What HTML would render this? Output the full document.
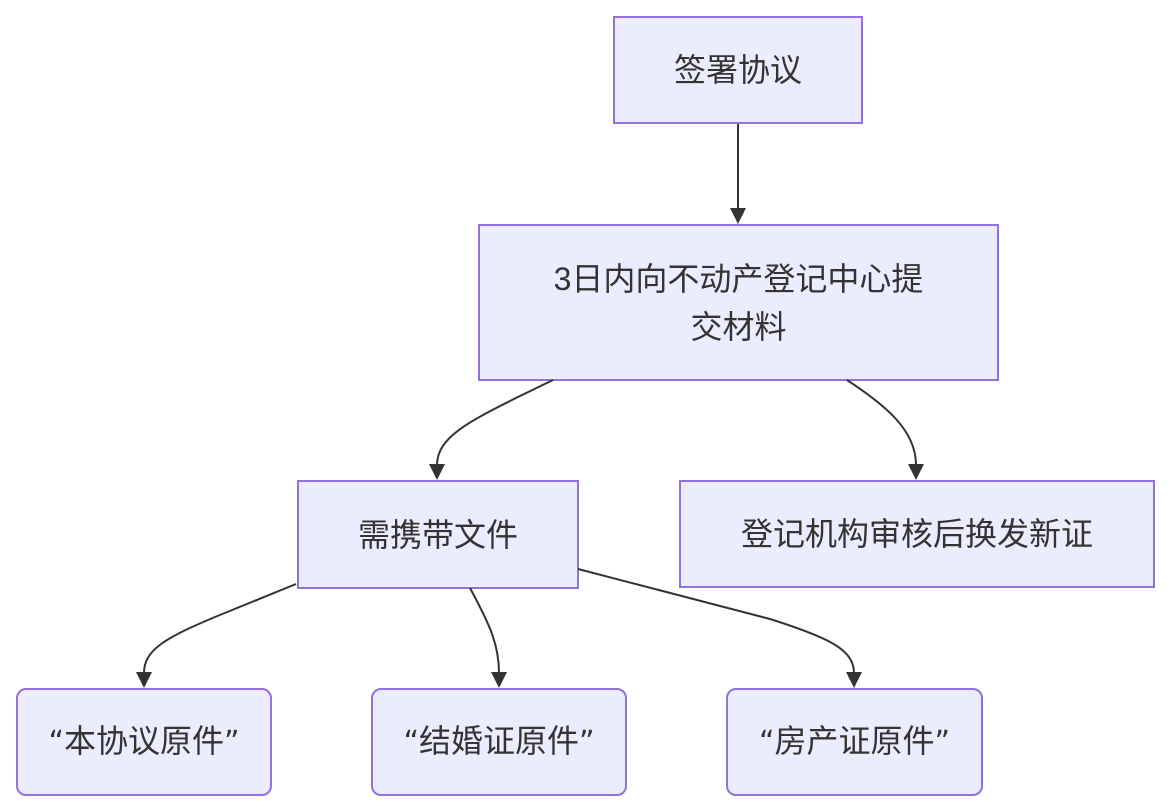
<!DOCTYPE html>
<html>
<head>
<meta charset="utf-8">
<style>
  html, body { margin:0; padding:0; background:#ffffff; }
  body { width:1169px; height:812px; position:relative; overflow:hidden;
         font-family:"Liberation Sans","Noto Sans CJK SC",sans-serif; }
  .n { position:absolute; box-sizing:border-box; background:#ECECFF; border:2px solid #9370DB;
       display:flex; align-items:center; justify-content:center; text-align:center;
       color:#333333; font-size:32px; line-height:48px; }
  .r { border-radius:10px; }
  .q { font-family:"DejaVu Sans",sans-serif; font-size:30px; }
  svg { position:absolute; left:0; top:0; }
</style>
</head>
<body>
<div class="n" style="left:613px;top:16px;width:250px;height:108px;">签署协议</div>
<div class="n" style="left:478px;top:224px;width:521px;height:157px;">3日内向不动产登记中心提<br>交材料</div>
<div class="n" style="left:297px;top:480px;width:282px;height:109px;">需携带文件</div>
<div class="n" style="left:679px;top:480px;width:476px;height:108px;">登记机构审核后换发新证</div>
<div class="n r" style="left:16px;top:688px;width:256px;height:108px;"><span><span class="q">“</span>本协议原件<span class="q">”</span></span></div>
<div class="n r" style="left:371px;top:688px;width:256px;height:108px;"><span><span class="q">“</span>结婚证原件<span class="q">”</span></span></div>
<div class="n r" style="left:726px;top:688px;width:257px;height:108px;"><span><span class="q">“</span>房产证原件<span class="q">”</span></span></div>

<svg width="1169" height="812" viewBox="0 0 1169 812">
  <g fill="none" stroke="#333333" stroke-width="2">
    <path d="M738,124 L738,209"/>
    <path d="M553,380 L520,396 C470,421 437,437 437,465"/>
    <path d="M847,380 C885,405 916,430 916,465"/>
    <path d="M296,584 L215,617 C165,638 144,650 144,673"/>
    <path d="M470,588 C490,625 499,645 499,673"/>
    <path d="M578,569 L770,619 C830,638 854,650 854,673"/>
  </g>
  <g fill="#333333">
    <polygon points="730,208 746,208 738,224"/>
    <polygon points="429,464 445,464 437,480"/>
    <polygon points="908,464 924,464 916,480"/>
    <polygon points="136,672 152,672 144,688"/>
    <polygon points="491,672 507,672 499,688"/>
    <polygon points="846,672 862,672 854,688"/>
  </g>
</svg>
</body>
</html>
